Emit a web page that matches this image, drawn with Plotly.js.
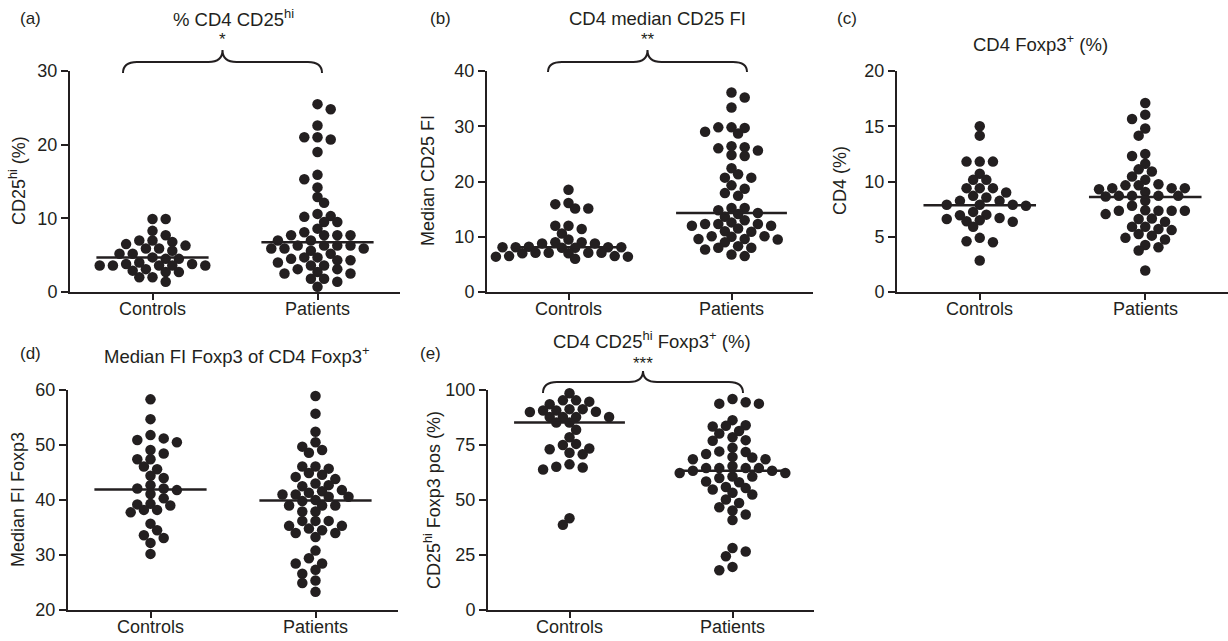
<!DOCTYPE html>
<html>
<head>
<meta charset="utf-8">
<script src="https://cdn.plot.ly/plotly-3.0.1.min.js"></script>
<style>html,body{margin:0;padding:0;background:#fff;}#chart{width:1228px;height:641px;}</style>
</head>
<body>
<div id="chart"></div>
<script>
// ---------- data ----------
const categories = ["Controls", "Patients"];

const aControls = [9.9,9.9,8.3,7.7,7.0,7.0,6.8,6.5,6.3,5.9,5.9,5.6,5.2,5.2,4.7,4.5,4.5,4.0,3.8,3.8,3.6,3.6,3.6,3.6,3.6,3.1,2.9,2.7,2.7,2.0,2.0,1.4];
const aPatients = [25.5,24.8,22.6,21.0,21.0,20.7,19.0,15.9,15.3,14.2,12.9,12.1,10.6,10.3,10.2,9.5,9.5,8.6,8.1,7.7,7.7,7.7,7.7,7.0,7.0,6.3,6.3,6.3,6.3,5.9,5.9,5.9,5.6,5.2,4.7,4.7,4.5,4.3,4.3,4.0,3.6,3.6,3.1,3.1,2.7,2.5,2.5,1.8,1.8,1.4,0.7];
const aMedians = [4.7, 6.75];

const bControls = [18.5,16.1,15.9,15.1,15.1,12.0,12.0,11.4,10.6,9.5,9.0,9.0,8.8,8.8,8.2,8.1,8.1,8.1,8.1,8.0,8.0,7.1,7.1,7.1,7.1,7.0,7.0,6.5,6.5,6.4,6.4,6.0];
const bPatients = [36.1,35.2,33.4,29.8,29.8,29.7,29.0,28.7,26.4,26.2,26.0,25.6,24.8,24.6,22.4,21.3,20.7,20.7,19.3,18.7,17.9,17.4,15.2,15.2,14.8,14.3,14.1,13.6,13.0,12.6,12.3,12.3,12.3,12.0,12.0,11.5,11.0,10.9,10.1,10.1,10.0,9.6,9.6,9.5,9.0,8.3,8.0,8.0,7.7,6.8,6.5];
const bMedians = [8.1, 14.3];

const cControls = [15.0,14.15,11.8,11.8,11.8,10.7,10.15,10.15,9.4,9.4,9.4,9.0,8.7,8.55,8.25,8.25,7.9,7.9,7.9,7.8,7.25,7.0,6.95,6.7,6.6,6.5,6.4,6.35,5.9,4.9,4.6,4.5,2.85];
const cPatients = [17.1,16.05,15.65,14.8,14.15,12.5,12.3,11.6,11.1,10.9,10.45,10.15,9.75,9.65,9.65,9.4,9.4,9.4,9.3,9.05,8.7,8.7,8.7,8.7,8.65,8.25,7.8,7.4,7.35,7.35,7.35,7.35,7.05,6.65,6.6,6.35,5.9,5.9,5.7,5.6,5.25,5.1,4.9,4.75,4.25,4.05,3.75,1.95];
const cMedians = [7.85, 8.6];

const dControls = [58.3,54.7,51.8,51.2,50.9,50.5,49.1,48.45,47.4,47.4,46.1,45.6,44.4,44.0,42.7,42.1,42.1,41.8,41.1,40.3,39.3,39.2,39.0,38.2,38.2,37.75,35.7,34.5,33.6,33.1,32.2,30.2];
const dPatients = [58.9,55.7,52.4,50.5,49.7,49.1,48.6,46.1,46.1,45.7,44.9,44.6,44.2,43.8,43.0,42.7,42.5,41.8,41.6,41.3,41.0,41.0,40.6,40.6,40.0,39.8,39.0,39.0,39.0,37.9,37.9,36.2,36.2,36.2,35.3,35.3,34.8,34.5,34.0,34.0,33.25,30.8,29.4,28.45,28.45,27.3,26.6,25.35,24.9,23.3];
const dMedians = [41.9, 39.9];

const eControls = [98.5,95.3,95.3,94.7,93.5,91.3,91.3,90.7,90.7,90.1,90.0,87.7,87.7,87.7,87.7,85.2,85.2,81.9,78.5,75.5,75.0,73.4,73.1,71.5,70.8,66.2,65.1,64.8,63.9,41.7,38.7];
const ePatients = [95.9,94.4,93.8,93.8,86.3,84.0,83.7,83.4,81.4,80.2,78.5,77.2,76.9,73.8,72.1,71.8,70.9,69.6,69.3,68.5,68.5,65.4,64.5,64.5,64.5,64.5,63.3,63.3,62.3,62.3,60.7,60.7,60.0,58.4,58.1,55.9,55.4,54.8,53.3,52.5,50.2,48.6,46.7,45.2,43.4,40.9,28.2,26.6,24.4,19.6,18.1];
const eMedians = [85.2, 63.3];

const panelTitles = ["% CD4 CD25<sup>hi</sup>", "CD4 median CD25 FI", "CD4 Foxp3<sup>+</sup> (%)",
                     "Median FI Foxp3 of CD4 Foxp3<sup>+</sup>", "CD4 CD25<sup>hi</sup> Foxp3<sup>+</sup> (%)"];
const yTitles = ["CD25<sup>hi</sup> (%)", "Median CD25 FI", "CD4 (%)", "Median FI Foxp3", "CD25<sup>hi</sup> Foxp3 pos (%)"];
const panelLetters = ["(a)", "(b)", "(c)", "(d)", "(e)"];
const significance = ["*", "**", null, null, "***"];

const aTicks = [0,10,20,30], bTicks = [0,10,20,30,40], cTicks = [0,5,10,15,20],
      dTicks = [20,30,40,50,60], eTicks = [0,25,50,75,100];

// ---------- layout geometry (pixels) ----------
const W = 1228, H = 641;
const FONT = "Liberation Sans, Arial, Helvetica, sans-serif";
const INK = "#231f20";
const px = x => x / W, py = y => 1 - y / H;

const panels = [
  {ctrl:aControls, pat:aPatients, med:aMedians, ticks:aTicks, range:[0,30],  x0:70,  x1:400,  yTop:71,  yBot:292,
   letter:[30,18], title:[233,18], ylab:[18,181], brace:[123,322,62,73,50], star:[222,40]},
  {ctrl:bControls, pat:bPatients, med:bMedians, ticks:bTicks, range:[0,40],  x0:487, x1:813,  yTop:71,  yBot:292,
   letter:[440,18], title:[657,18], ylab:[428,181], brace:[548,747,62,72,50], star:[648,40]},
  {ctrl:cControls, pat:cPatients, med:cMedians, ticks:cTicks, range:[0,20],  x0:897, x1:1228, yTop:71,  yBot:292,
   letter:[847,18], title:[1040,43], ylab:[840,181], brace:null, star:null},
  {ctrl:dControls, pat:dPatients, med:dMedians, ticks:dTicks, range:[20,60], x0:68,  x1:398,  yTop:390, yBot:610,
   letter:[30,353], title:[237,355], ylab:[18,500], brace:null, star:null},
  {ctrl:eControls, pat:ePatients, med:eMedians, ticks:eTicks, range:[0,100], x0:488, x1:814,  yTop:390, yBot:610,
   letter:[430,353], title:[652,340], ylab:[432,500], brace:[543,743,382,393,371], star:[643,363]}
];

// beeswarm layout in pixel space -> category offsets
function swarm(vals, ypx, xpx, step, D) {
  const order = vals.map((v, i) => i).sort((a, b) => vals[b] - vals[a]);
  const placed = [];
  const off = new Array(vals.length).fill(0);
  order.forEach((i, k) => {
    const y = vals[i] * ypx;
    for (let j = 0; j < 400; j++) {
      const m = Math.ceil(j / 2);
      const sgn = (j % 2 === 1) ? 1 : -1;
      const cand = j === 0 ? 0 : (k % 2 ? sgn : -sgn) * m * step;
      if (placed.every(p => Math.hypot(p.x - cand, p.y - y) >= D)) {
        off[i] = cand; placed.push({x: cand, y}); break;
      }
    }
  });
  return off.map(o => o / xpx);
}

const traces = [];
const layout = {
  width: W, height: H, autosize: false,
  margin: {l: 0, r: 0, t: 0, b: 0},
  paper_bgcolor: "#fff", plot_bgcolor: "#fff",
  showlegend: false,
  font: {family: FONT, color: INK, size: 18},
  annotations: [], shapes: []
};

panels.forEach((p, k) => {
  const n = k === 0 ? "" : String(k + 1);
  const xa = "x" + n, ya = "y" + n;
  const xpx = (p.x1 - p.x0) / 2;
  const ypx = (p.yBot - p.yTop) / (p.range[1] - p.range[0]);
  [p.ctrl, p.pat].forEach((vals, ci) => {
    const offs = swarm(vals, ypx, xpx, 6.6, 8.5);
    traces.push({
      type: "scatter", mode: "markers", xaxis: xa, yaxis: ya, cliponaxis: false,
      x: vals.map((v, i) => ci + offs[i]), y: vals,
      marker: {size: 10.5, color: INK, line: {width: 0}},
      hoverinfo: "y"
    });
    traces.push({
      type: "scatter", mode: "lines", xaxis: xa, yaxis: ya, cliponaxis: false,
      x: [ci - 0.34, ci + 0.34], y: [p.med[ci], p.med[ci]],
      line: {color: INK, width: 2.5}, hoverinfo: "skip"
    });
  });
  const axCommon = {
    showline: true, linecolor: INK, linewidth: 2, ticks: "outside", ticklen: 7, tickwidth: 2,
    tickcolor: INK, showgrid: false, zeroline: false, fixedrange: true,
    tickfont: {family: FONT, size: 18, color: INK}
  };
  layout["xaxis" + n] = Object.assign({}, axCommon, {
    domain: [px(p.x0), px(p.x1)], range: [-0.5, 1.5], anchor: ya,
    tickmode: "array", tickvals: [0, 1], ticktext: categories, ticklen: 6, showticklabels: false
  });
  layout["yaxis" + n] = Object.assign({}, axCommon, {
    domain: [py(p.yBot), py(p.yTop)], range: p.range, anchor: xa,
    tickmode: "array", tickvals: p.ticks, ticktext: p.ticks.map(String)
  });
  const ann = (x, y, text, extra) => layout.annotations.push(Object.assign({
    xref: "paper", yref: "paper", x: px(x), y: py(y), text, showarrow: false,
    xanchor: "center", yanchor: "middle", font: {family: FONT, size: 18, color: INK}
  }, extra || {}));
  categories.forEach((c, ci) => layout.annotations.push({
    xref: xa, yref: "paper", x: ci, y: py(p.yBot + 17), text: c, showarrow: false,
    xanchor: "center", yanchor: "middle", font: {family: FONT, size: 18, color: INK}
  }));
  ann(p.letter[0], p.letter[1], panelLetters[k], {font: {family: FONT, size: 17, color: INK}});
  ann(p.title[0], p.title[1], panelTitles[k], {font: {family: FONT, size: 18.5, color: INK}});
  ann(p.ylab[0], p.ylab[1], yTitles[k], {textangle: -90});
  if (p.brace) {
    const [bx0, bx1, bTop, bEnd, bPeak] = p.brace;
    const xc = (bx0 + bx1) / 2, r = 14;
    const P = (x, y) => px(x).toFixed(5) + "," + py(y).toFixed(5);
    const path = "M" + P(bx0, bEnd) + " Q" + P(bx0, bTop) + " " + P(bx0 + r, bTop) +
      " L" + P(xc - r, bTop) + " Q" + P(xc, bTop) + " " + P(xc, bPeak) +
      " Q" + P(xc, bTop) + " " + P(xc + r, bTop) + " L" + P(bx1 - r, bTop) +
      " Q" + P(bx1, bTop) + " " + P(bx1, bEnd);
    layout.shapes.push({type: "path", xref: "paper", yref: "paper", path, line: {color: INK, width: 2}});
    ann(p.star[0], p.star[1], significance[k], {font: {family: FONT, size: 17, color: INK}});
  }
});

Plotly.newPlot("chart", traces, layout, {displayModeBar: false, staticPlot: true});
</script>
</body>
</html>
